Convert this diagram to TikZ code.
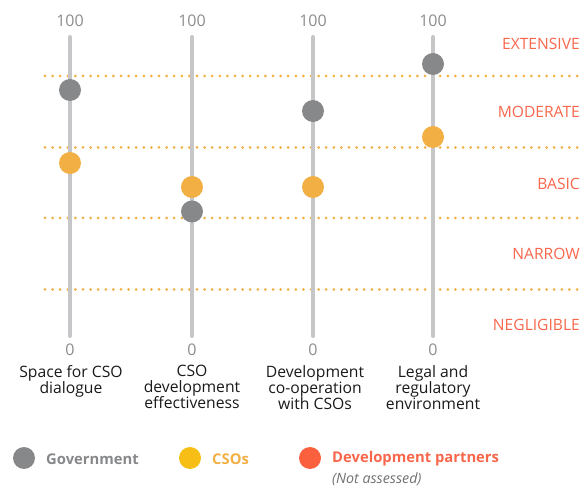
\documentclass[tikz,border=0pt]{standalone}
\usepackage{fontspec}
\setmainfont{Open Sans}
\definecolor{axisgrey}{HTML}{C6C6C8}
\definecolor{ticklab}{HTML}{8C8C8C}
\definecolor{govgrey}{HTML}{87888A}
\definecolor{csoorange}{HTML}{F2AF44}
\definecolor{levelred}{HTML}{F8674C}
\definecolor{legyellow}{HTML}{F7BE16}
\definecolor{legred}{HTML}{FA5F3E}
\definecolor{cattext}{HTML}{1A1A1A}
\definecolor{notgrey}{HTML}{707070}
\begin{document}
\begin{tikzpicture}[x=1pt,y=-1pt,
  axisline/.style={draw=axisgrey,line width=4pt,line cap=round},
  levelline/.style={draw=csoorange,line width=3pt,line cap=round,dash pattern=on 0pt off 7.6pt},
  ticktext/.style={text=ticklab,font=\fontsize{16}{16}\selectfont,inner sep=0pt},
  leveltext/.style={text=levelred,font=\fontsize{15.6}{16}\selectfont,anchor=east,inner sep=0pt},
  cattextstyle/.style={text=cattext,font=\fontsize{15.7}{16}\selectfont,align=center,anchor=north,inner sep=0pt},
  dotg/.style={circle,fill=govgrey,minimum size=22pt,inner sep=0pt},
  doto/.style={circle,fill=csoorange,minimum size=22pt,inner sep=0pt},
  legdot/.style={circle,minimum size=22pt,inner sep=0pt},
  legtext/.style={font=\fontsize{14.8}{16}\selectfont\bfseries,anchor=west,inner sep=0pt}]
\useasboundingbox (0,0) rectangle (587,486);
% level lines
\foreach \yy/\nm in {76/la,147.5/lb,218/lc,289.5/ld}{
  \coordinate (\nm s) at (45,\yy);
  \coordinate (\nm e) at (579,\yy);
  \draw[levelline] (\nm s) -- (\nm e);
}
% level labels
\node[leveltext] (tExt) at (580,44) {EXTENSIVE};
\node[leveltext] (tMod) at (580,112) {MODERATE};
\node[leveltext] (tBas) at (580,184) {BASIC};
\node[leveltext] (tNar) at (580,254) {NARROW};
\node[leveltext] (tNeg) at (580,325) {NEGLIGIBLE};
% axes
\foreach \xx/\nm in {70/a1,192/a2,313/a3,433/a4}{
  \coordinate (\nm t) at (\xx,37);
  \coordinate (\nm b) at (\xx,336);
  \draw[axisline] (\nm t) -- (\nm b);
  \node[ticktext] (\nm hi) at (\xx,21) {100};
  \node[ticktext] (\nm lo) at (\xx,350) {0};
}
% category labels
\node[cattextstyle] (c1) at (71,365) {Space for CSO\\dialogue};
\node[cattextstyle] (c2) at (192,365) {CSO\\development\\effectiveness};
\node[cattextstyle] (c3) at (315,365) {Development\\co-operation\\with CSOs};
\node[cattextstyle] (c4) at (433,365) {Legal and\\regulatory\\environment};
% data points
\node[dotg] (g1) at (70,90) {};
\node[doto] (o1) at (70,163) {};
\node[doto] (o2) at (192,187) {};
\node[dotg] (g2) at (192,211.5) {};
\node[dotg] (g3) at (313,111) {};
\node[doto] (o3) at (313,187) {};
\node[dotg] (g4) at (433,64) {};
\node[doto] (o4) at (433,137) {};
% legend
\node[legdot,fill=govgrey] (lg) at (24,458) {};
\node[legtext,text=govgrey] (lgt) at (46,459) {Government};
\node[legdot,fill=legyellow] (ly) at (190,458) {};
\node[legtext,text=csoorange] (lyt) at (212,459) {CSOs};
\node[legdot,fill=legred] (lr) at (310,458) {};
\node[legtext,text=levelred] (lrt) at (332,459) {Development partners};
\node[anchor=west,inner sep=0pt,text=notgrey,font=\fontsize{14.2}{14}\selectfont\itshape] (lna) at (332,479) {(Not assessed)};
\end{tikzpicture}
\end{document}
